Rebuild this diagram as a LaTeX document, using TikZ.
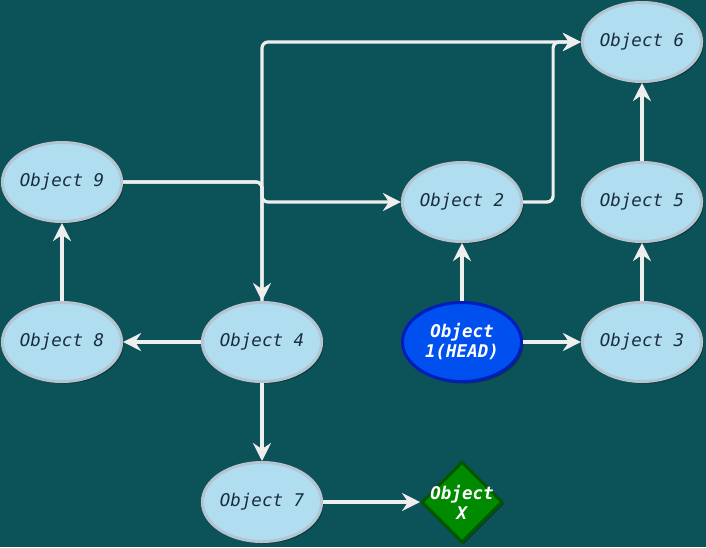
\documentclass[tikz,border=0pt]{standalone}
\usepackage{fontspec}
\newfontfamily\objfont{DejaVu Sans Mono}
\usetikzlibrary{shapes.geometric,arrows.meta,shadows}
\pgfdeclarelayer{background}
\pgfdeclarelayer{foreground}
\pgfsetlayers{background,main,foreground}
\definecolor{bgteal}{HTML}{0B5259}
\definecolor{objfill}{HTML}{B1DDF0}
\definecolor{objline}{HTML}{B4C4D0}
\definecolor{objtext}{HTML}{182E3E}
\definecolor{headfill}{HTML}{0050EF}
\definecolor{headline}{HTML}{001DBC}
\definecolor{xfill}{HTML}{008A00}
\definecolor{xline}{HTML}{005700}
\definecolor{linkcol}{HTML}{EEEEEE}
\tikzset{
  obj/.style={ellipse, draw=objline, fill=objfill, line width=3pt,
    minimum width=119pt, minimum height=79pt, inner sep=0pt, align=center,
    text=objtext, font=\objfont\itshape\fontsize{17.5}{20}\selectfont,
    drop shadow={shadow xshift=2pt, shadow yshift=-2pt, opacity=.3, fill=black}},
  headobj/.style={obj, draw=headline, fill=headfill, text=white,
    font=\objfont\bfseries\itshape\fontsize{17.5}{20}\selectfont},
  xobj/.style={diamond, draw=xline, fill=xfill, line width=3pt,
    minimum width=81pt, minimum height=81pt, inner sep=0pt,
    drop shadow={shadow xshift=2pt, shadow yshift=-2pt, opacity=.3, fill=black}},
  xtext/.style={text=white, align=center,
    font=\objfont\bfseries\itshape\fontsize{17.5}{20}\selectfont},
  link/.style={draw=linkcol, line width=3.2pt, rounded corners=6pt,
    -{Stealth[length=18pt, width=18pt, inset=6pt]}}
}
\begin{document}
\begin{tikzpicture}[x=1pt, y=-1pt]

\useasboundingbox [fill=bgteal] (0,0) rectangle (706,547) ;

%objects
\node [obj] (o6) at (642, 42) {Object 6} ;
\node [obj] (o9) at (62, 182) {Object 9} ;
\node [obj] (o2) at (462, 202) {Object 2} ;
\node [obj] (o5) at (642, 202) {Object 5} ;
\node [obj] (o8) at (62, 342) {Object 8} ;
\node [obj] (o4) at (262, 342) {Object 4} ;
\node [headobj] (o1) at (462, 342) {Object\\1(HEAD)} ;
\node [obj] (o3) at (642, 342) {Object 3} ;
\node [obj] (o7) at (262, 502) {Object 7} ;
\node [xobj, label={[xtext]center:{Object\\X}}] (oX) at (462, 502) {} ;

%links
\coordinate (bend) at (262, 202) ;
\draw [link] (o1.north) -- (o2.south) ;
\draw [link] (o1.east) -- (o3.west) ;
\draw [link] (o3.north) -- (o5.south) ;
\draw [link] (o5.north) -- (o6.south) ;
\draw [link] (o2.east) -- ++(30,0) |- (o6.west) ;
\draw [link] (o4.north) |- (o6.west) ;
\draw [link] (o9.east) -| (o4.north) ;
\draw [link] (o9.east) -| (bend) -- (o2.west) ;
\draw [link] (o4.west) -- (o8.east) ;
\draw [link] (o8.north) -- (o9.south) ;
\draw [link] (o4.south) -- (o7.north) ;
\draw [link] (o7.east) -- (oX.west) ;

\end{tikzpicture}
\end{document}
